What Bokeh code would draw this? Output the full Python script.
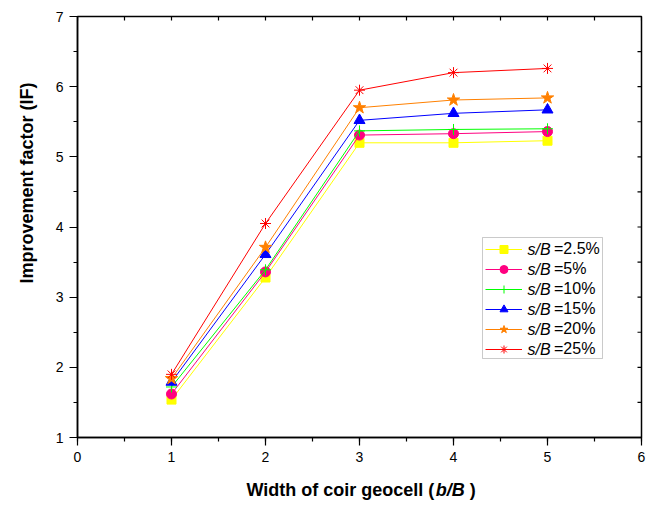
from bokeh.plotting import figure
from bokeh.layouts import column
from bokeh.models import (Range1d, SingleIntervalTicker, Legend, LegendItem,
                          Label, BoxAnnotation, Title)
from bokeh.embed import file_html
from bokeh.resources import INLINE

# ---- data ----
width_ratio = [1, 2, 3, 4, 5]
if_s2_5 = [1.54, 3.28, 5.20, 5.20, 5.23]
if_s5 = [1.62, 3.36, 5.31, 5.33, 5.36]
if_s10 = [1.72, 3.39, 5.37, 5.39, 5.40]
if_s15 = [1.79, 3.61, 5.52, 5.62, 5.67]
if_s20 = [1.84, 3.71, 5.70, 5.81, 5.84]
if_s25 = [1.90, 4.05, 5.95, 6.20, 6.26]
series_values = [if_s2_5, if_s5, if_s10, if_s15, if_s20, if_s25]
series_labels = ["=2.5%", "=5%", "=10%", "=15%", "=20%", "=25%"]
x_ticks = [0, 1, 2, 3, 4, 5, 6]
y_ticks = [1, 2, 3, 4, 5, 6, 7]

# ---- styles ----
colors = ["#FFFF00", "#FF0080", "#00FF00", "#0000FF", "#FF8000", "#FF0000"]
markers = ["square", "circle", "cross", "triangle", "star", "asterisk"]
msizes = [9, 10, 11, 11, 13, 11]
FONT = "Liberation Sans"

W, H = 656, 505
XT_H = 29                       # strip holding the x-axis title
PH = H - XT_H
LB, RB, TB, BB = 77, 15, 16, PH - 437
FW, FH = W - LB - RB, PH - TB - BB
X0, X1, Y0, Y1 = 0, 6, 1, 7


def dx(px):
    return X0 + (px - LB) / FW * (X1 - X0)


def dy(py):
    return Y1 - (py - TB) / FH * (Y1 - Y0)


p = figure(width=W, height=PH, x_range=Range1d(X0, X1), y_range=Range1d(Y0, Y1),
           output_backend="svg", toolbar_location=None,
           min_border_left=LB, min_border_right=RB, min_border_top=TB, min_border_bottom=BB)
p.xgrid.visible = False
p.ygrid.visible = False
p.outline_line_color = "black"
p.outline_line_width = 1.5
p.background_fill_color = "white"
p.border_fill_color = "white"

for ax in (p.xaxis[0], p.yaxis[0]):
    ax.ticker = SingleIntervalTicker(interval=1, num_minor_ticks=2)
    ax.major_tick_out = 8
    ax.major_tick_in = 0
    ax.minor_tick_out = 4
    ax.minor_tick_in = 0
    ax.axis_line_width = 1.5
    ax.major_tick_line_width = 1.2
    ax.minor_tick_line_width = 1.2
    ax.major_label_text_font = FONT
    ax.major_label_text_font_size = "14px"
    ax.major_label_text_color = "black"
    ax.major_label_standoff = 6

# inward ticks on the top and right edges of the frame
x_minor = [(a + b) / 2 for a, b in zip(x_ticks[:-1], x_ticks[1:])]
y_minor = [(a + b) / 2 for a, b in zip(y_ticks[:-1], y_ticks[1:])]
top_x = x_ticks + x_minor
right_y = y_ticks + y_minor
tick_dy = 4 / FH * (Y1 - Y0)
tick_dx = 4 / FW * (X1 - X0)
p.segment(x0=top_x, y0=[Y1] * len(top_x), x1=top_x, y1=[Y1 - tick_dy] * len(top_x),
          line_color="black", line_width=1.2)
p.segment(x0=[X1] * len(right_y), y0=right_y, x1=[X1 - tick_dx] * len(right_y), y1=right_y,
          line_color="black", line_width=1.2)

items = []
for vals, lab, c, m, s in zip(series_values, series_labels, colors, markers, msizes):
    lr = p.line(width_ratio, vals, line_color=c, line_width=1)
    sr = p.scatter(width_ratio, vals, marker=m, size=s, fill_color=c, line_color=c, line_width=1)
    items.append(LegendItem(label=lab, renderers=[lr, sr]))

# legend frame
box = BoxAnnotation(left=dx(482), right=dx(602), top=dy(237), bottom=dy(358),
                    fill_color="white", fill_alpha=1, line_color="#505050", line_width=1)
p.add_layout(box)

LEG_X, LEG_TOP, GH = 485, 239, 20
legend = Legend(items=items, location=(LEG_X - LB, (PH - BB) - (LEG_TOP + GH * 6)),
                orientation="vertical", glyph_width=37, glyph_height=GH, spacing=0,
                padding=0, margin=0, label_standoff=32, label_height=GH,
                label_text_font=FONT, label_text_font_size="16px", label_text_color="black",
                border_line_alpha=0, background_fill_alpha=0)
p.add_layout(legend)

for i in range(len(series_labels)):
    cy = LEG_TOP + GH / 2 + i * GH
    p.add_layout(Label(x=dx(527), y=dy(cy), text="s/B", text_font=FONT, text_font_size="16px",
                       text_font_style="italic", text_baseline="middle", text_align="left",
                       text_color="black"))

# y-axis title (starts 154 px above the bottom of the frame)
p.add_layout(Title(text="Improvement factor (IF)", align="left", offset=154, standoff=28,
                   vertical_align="top",
                   text_font=FONT, text_font_size="18px", text_font_style="bold",
                   text_color="black"), "left")

# x-axis title strip (mixed bold / bold-italic text); x values are page pixels
q = figure(width=W, height=XT_H, x_range=Range1d(LB, W - RB), y_range=Range1d(XT_H, 0),
           output_backend="svg", toolbar_location=None,
           x_axis_location=None, y_axis_location=None,
           min_border_left=LB, min_border_right=RB, min_border_top=0, min_border_bottom=0)
q.xgrid.visible = False
q.ygrid.visible = False
q.outline_line_color = None
q.background_fill_color = "white"
q.border_fill_color = "white"

XL_START, XL_Y = 246, 489 - PH
w1 = 188.2   # approx width of "Width of coir geocell (" at 18px bold
w2 = 29.0    # approx width of "b/B" at 18px bold italic
q.add_layout(Label(x=XL_START, y=XL_Y, text="Width of coir geocell (",
                   text_font=FONT, text_font_size="18px", text_font_style="bold",
                   text_align="left", text_baseline="middle", text_color="black"))
q.add_layout(Label(x=XL_START + w1 + 1, y=XL_Y, text="b/B",
                   text_font=FONT, text_font_size="18px", text_font_style="bold italic",
                   text_align="left", text_baseline="middle", text_color="black"))
q.add_layout(Label(x=XL_START + w1 + w2 + 6, y=XL_Y, text=")",
                   text_font=FONT, text_font_size="18px", text_font_style="bold",
                   text_align="left", text_baseline="middle", text_color="black"))

layout = column(p, q, spacing=0)
open("out.html", "w").write(file_html(layout, INLINE))
